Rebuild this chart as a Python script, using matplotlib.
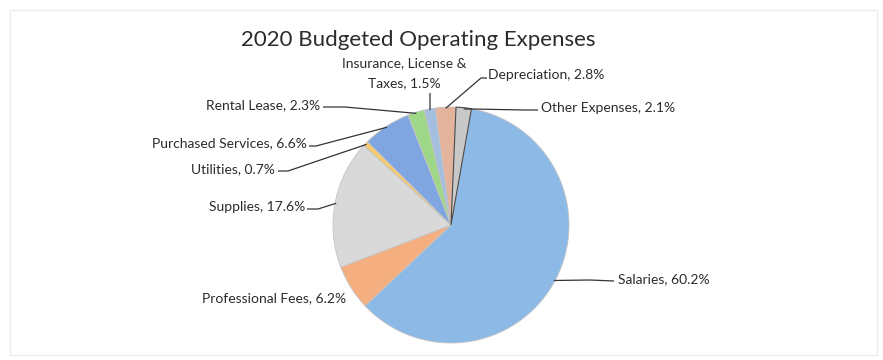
import matplotlib.pyplot as plt
import numpy as np
from matplotlib.patches import Rectangle

plt.rcParams['font.family'] = ['Lato', 'DejaVu Sans']

# expense categories, clockwise from the top of the pie
categories = ["Salaries", "Professional Fees", "Supplies", "Utilities", "Purchased Services",
              "Rental Lease", "Insurance, License &\nTaxes", "Depreciation", "Other Expenses"]
shares = [60.2, 6.2, 17.6, 0.7, 6.6, 2.3, 1.5, 2.8, 2.1]
colors = ["#8DB9E6", "#F4AE7F", "#D9D9D9", "#F7CB6B", "#7FA6E0",
          "#9ED787", "#A3BEDF", "#E4B39C", "#C8C8C8"]

W, H = 883, 360
fig = plt.figure(figsize=(W / 100, H / 100), dpi=100)
ax = fig.add_axes([0, 0, 1, 1])

# work in pixel-like coordinates measured from the top
def py(y):
    return H - y

cx, cy, r = 451, py(225), 118
wedges, _ = ax.pie(shares, colors=colors, startangle=80, counterclock=False,
                   center=(cx, cy), radius=r, frame=True,
                   wedgeprops=dict(edgecolor="#c4c4c4", linewidth=0.6))
ax.set_xlim(0, W)
ax.set_ylim(0, H)
ax.set_aspect('equal')
ax.axis('off')
wedges[-1].set_edgecolor("#4a4a4a")
wedges[-1].set_linewidth(0.8)

# label text position, alignment and leader elbow (None = no leader)
labels = {
    "Salaries": ((618, 279), "left", [(590, 280), (614, 281)]),
    "Professional Fees": ((346, 298), "right", None),
    "Supplies": ((305, 207), "right", [(318, 209), (307, 209)]),
    "Utilities": ((275, 169), "right", [(288, 171), (278, 171)]),
    "Purchased Services": ((307, 143), "right", [(316, 146), (309, 146)]),
    "Rental Lease": ((320, 105), "right", [(345, 107), (323, 107)]),
    "Insurance, License &\nTaxes": ((404, 73), "center", [(430, 93)]),
    "Depreciation": ((488, 75), "left", [(481, 78), (487, 78)]),
    "Other Expenses": ((541, 108), "left", [(525, 110), (538, 110)]),
}

for w, name, val in zip(wedges, categories, shares):
    (tx, ty), ha, elbow = labels[name]
    ax.text(tx, py(ty), f"{name}, {val}%", ha=ha, va="center", fontsize=10,
            color="#2b2b2b", linespacing=1.75, multialignment="center")
    if elbow is None:
        continue
    mid = np.deg2rad((w.theta1 + w.theta2) / 2)
    sx = cx + r * 0.99 * np.cos(mid)
    sy = cy + r * 0.99 * np.sin(mid)
    xs = [sx] + [p[0] for p in elbow]
    ys = [sy] + [py(p[1]) for p in elbow]
    ax.plot(xs, ys, color="#333333", lw=0.9, solid_capstyle="butt")

ax.text(418, py(40), "2020 Budgeted Operating Expenses", ha="center", va="center",
        fontsize=16, color="#2b2b2b")

ax.add_patch(Rectangle((10, py(355)), 867, 345, fill=False, edgecolor="#ececec", lw=1))

fig.savefig("out.png", dpi=100, facecolor="white")
